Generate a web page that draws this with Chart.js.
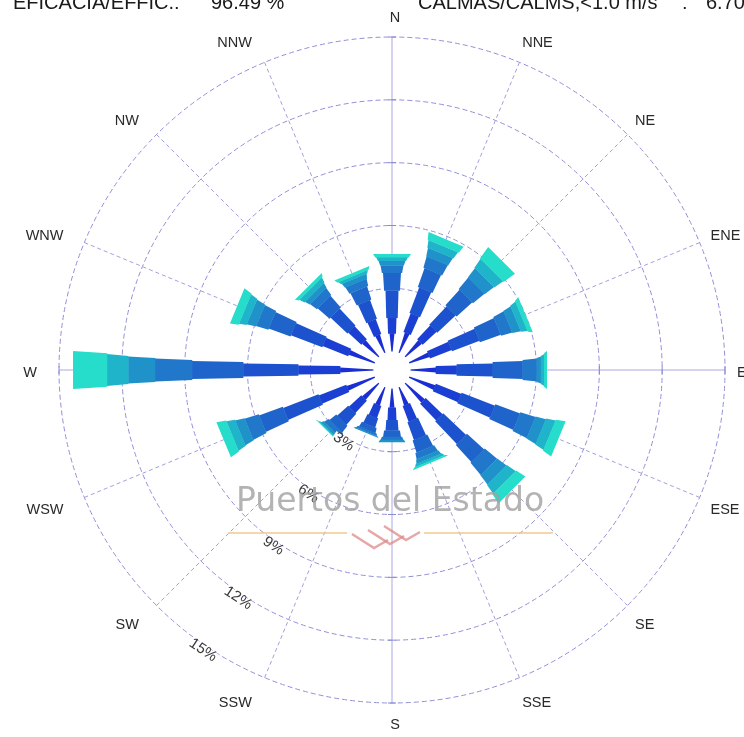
<!DOCTYPE html>
<html>
<head>
<meta charset="utf-8">
<script src="https://cdn.jsdelivr.net/npm/chart.js@4.4.1/dist/chart.umd.min.js"></script>
<style>
  html, body { margin: 0; padding: 0; background: #fff; overflow: hidden; }
  canvas { display: block; }
</style>
</head>
<body>
<canvas id="rose" width="744" height="737"></canvas>
<script>
// Wind directions (clockwise from North)
const directions = ['N', 'NNE', 'NE', 'ENE', 'E', 'ESE', 'SE', 'SSE',
                    'S', 'SSW', 'SW', 'WSW', 'W', 'WNW', 'NW', 'NNW'];

// Frequency (%) of each speed class per direction
const speedClass1 = [0.85, 1.00, 1.00, 1.00, 1.20, 1.30, 1.20, 0.90, 0.90, 0.90, 1.00, 1.40, 1.58, 1.30, 1.00, 0.90];
const speedClass2 = [0.75, 0.95, 0.90, 1.10, 1.00, 1.30, 1.10, 0.80, 0.60, 0.60, 0.80, 1.40, 2.00, 1.30, 0.85, 0.75];
const speedClass3 = [1.30, 1.30, 1.20, 1.40, 1.72, 1.70, 1.50, 0.90, 0.50, 0.45, 0.70, 1.80, 2.63, 1.60, 1.10, 0.95];
const speedClass4 = [0.85, 0.95, 1.00, 1.05, 1.43, 1.25, 1.10, 0.60, 0.30, 0.25, 0.40, 1.20, 2.44, 1.10, 0.75, 0.65];
const speedClass5 = [0.35, 0.55, 0.70, 0.55, 0.67, 0.75, 0.75, 0.30, 0.15, 0.10, 0.25, 0.70, 1.77, 0.60, 0.40, 0.35];
const speedClass6 = [0.22, 0.40, 0.55, 0.40, 0.20, 0.50, 0.55, 0.20, 0.10, 0.05, 0.12, 0.45, 1.28, 0.45, 0.25, 0.22];
const speedClass7 = [0.17, 0.35, 0.50, 0.30, 0.15, 0.45, 0.50, 0.12, 0.00, 0.00, 0.05, 0.40, 1.01, 0.35, 0.25, 0.14];
const speedClass8 = [0.15, 0.35, 0.65, 0.20, 0.13, 0.45, 0.50, 0.08, 0.00, 0.00, 0.03, 0.45, 1.62, 0.40, 0.15, 0.14];

// Percentage rings
const ringTicks = [3, 6, 9, 12, 15];

// Header figures
const efficacy = '96.49 %';
const calms = '6.70';

const speedClasses = [speedClass1, speedClass2, speedClass3, speedClass4,
                      speedClass5, speedClass6, speedClass7, speedClass8];

// Styling per speed class: fill colour and bar thickness (px)
const classColors = ['#1a2ed4', '#1a3fd2', '#1c52ce', '#1f64cb', '#2178ca', '#2092ca', '#20b4ca', '#26dcca'];
const classThickness = [5, 9, 13, 18, 23, 27, 32, 38];

// Cumulative stacks: each class starts where the previous one ended
let running = directions.map(() => 0);
const datasets = speedClasses.map((values, k) => {
  running = running.map((sum, i) => sum + values[i]);
  return {
    label: 'Clase ' + (k + 1),
    data: running.slice(),
    segmentColor: classColors[k],
    segmentThickness: classThickness[k],
    borderWidth: 0,
    borderColor: 'rgba(0,0,0,0)',
    backgroundColor: 'rgba(0,0,0,0)',
    pointRadius: 0,
    pointHoverRadius: 0,
    fill: false
  };
});

const ringColor = '#9090d8';
const spokeColor = '#a9a9e2';

// Small cross ticks where the rings meet the four main axes
const axisTicks = {
  id: 'axisTicks',
  beforeDatasetsDraw(chart) {
    const ctx = chart.ctx;
    const scale = chart.scales.r;
    ctx.save();
    ctx.strokeStyle = '#8a8ad6';
    ctx.lineWidth = 1;
    [0, 4, 8, 12].forEach(i => {
      const a = scale.getIndexAngle(i) - Math.PI / 2;
      const nx = -Math.sin(a), ny = Math.cos(a);
      ringTicks.forEach(v => {
        const p = scale.getPointPosition(i, scale.getDistanceFromCenterForValue(v));
        ctx.beginPath();
        ctx.moveTo(p.x - nx * 4, p.y - ny * 4);
        ctx.lineTo(p.x + nx * 4, p.y + ny * 4);
        ctx.stroke();
      });
    });
    ctx.restore();
  }
};

// Stacked bars, drawn along each direction from the points the radar controller places
const roseBars = {
  id: 'roseBars',
  afterDatasetsDraw(chart) {
    const ctx = chart.ctx;
    const scale = chart.scales.r;
    const cx = scale.xCenter, cy = scale.yCenter;
    const base = scale.getDistanceFromCenterForValue(0);
    // calm circle
    ctx.save();
    ctx.fillStyle = '#fff';
    ctx.beginPath();
    ctx.arc(cx, cy, base, 0, Math.PI * 2);
    ctx.fill();
    ctx.restore();
    chart.data.datasets.forEach((ds, k) => {
      const meta = chart.getDatasetMeta(k);
      const prev = k > 0 ? chart.getDatasetMeta(k - 1) : null;
      meta.data.forEach((pt, i) => {
        const outer = Math.hypot(pt.x - cx, pt.y - cy);
        const inner = prev ? Math.hypot(prev.data[i].x - cx, prev.data[i].y - cy) : base;
        if (outer - inner < 0.05) return;
        const hw = ds.segmentThickness / 2;
        const hwIn = k === 0 ? 0.6 : hw * 0.88;
        ctx.save();
        ctx.translate(cx, cy);
        ctx.rotate(scale.getIndexAngle(i) - Math.PI / 2);
        ctx.fillStyle = ds.segmentColor;
        ctx.beginPath();
        ctx.moveTo(inner - 0.3, -hwIn);
        ctx.lineTo(outer, -hw);
        ctx.lineTo(outer, hw);
        ctx.lineTo(inner - 0.3, hwIn);
        ctx.closePath();
        ctx.fill();
        ctx.restore();
      });
    });
  }
};

// Direction names, ring percentages, header and institutional mark
const roseText = {
  id: 'roseText',
  afterDraw(chart) {
    const ctx = chart.ctx;
    const scale = chart.scales.r;
    const cx = scale.xCenter, cy = scale.yCenter;

    ctx.save();
    // direction names: left of the N-S axis right-aligned, right of it left-aligned
    ctx.font = '14.5px "Liberation Sans", Arial, sans-serif';
    ctx.fillStyle = '#2a2a2a';
    ctx.textBaseline = 'middle';
    chart.data.labels.forEach((lab, i) => {
      const px = scale.getPointPosition(i, scale.drawingArea + 15);
      const py = scale.getPointPosition(i, scale.drawingArea + 24);
      let x = px.x;
      const dx = px.x - cx;
      if (Math.abs(dx) < 1) {
        ctx.textAlign = 'center';
        x = cx + 3;
      } else if (dx > 0) {
        ctx.textAlign = 'left';
        x = px.x - 3;
      } else {
        ctx.textAlign = 'right';
        x = px.x - 7;
      }
      const y = (i % 8 === 0) ? scale.getPointPosition(i, scale.drawingArea + 19).y + (i === 0 ? -3 : 0) : py.y;
      ctx.fillText(lab, x, y + 3);
    });

    // ring percentages along the SSW-SW quadrant
    const bearing = 214 * Math.PI / 180;
    ctx.font = '15px "Liberation Sans", Arial, sans-serif';
    ctx.textAlign = 'center';
    ringTicks.forEach(v => {
      const d = scale.getDistanceFromCenterForValue(v) + 5;
      const x = cx + d * Math.sin(bearing);
      const y = cy - d * Math.cos(bearing);
      ctx.save();
      ctx.translate(x, y);
      ctx.rotate(bearing - Math.PI);
      const t = v + '%';
      const w = ctx.measureText(t).width;
      ctx.fillStyle = '#fff';
      ctx.fillRect(-w / 2 - 1, -5, w + 2, 10);
      ctx.fillStyle = '#3a3a3a';
      ctx.fillText(t, 0, 0);
      ctx.restore();
    });

    // header
    ctx.font = '20px "Liberation Sans", Arial, sans-serif';
    ctx.fillStyle = '#1a1a1a';
    ctx.textAlign = 'left';
    ctx.textBaseline = 'alphabetic';
    ctx.fillText('EFICACIA/EFFIC.:', 13, 9);
    ctx.fillText(efficacy, 211, 9);
    ctx.fillText('CALMAS/CALMS,<1.0 m/s', 418, 9);
    ctx.fillText(':', 682, 9);
    ctx.fillText(calms, 706, 9);

    // institutional mark
    ctx.globalAlpha = 0.75;
    ctx.strokeStyle = '#efc88c';
    ctx.lineWidth = 2;
    ctx.beginPath();
    ctx.moveTo(228, 533); ctx.lineTo(347, 533);
    ctx.moveTo(424, 533); ctx.lineTo(553, 533);
    ctx.stroke();
    ctx.strokeStyle = '#dd8a8a';
    ctx.lineWidth = 2.5;
    for (let j = 0; j < 3; j++) {
      const ox = 352 + j * 16, oy = 534 - j * 4;
      ctx.beginPath();
      ctx.moveTo(ox, oy);
      ctx.lineTo(ox + 22, oy + 14);
      ctx.lineTo(ox + 36, oy + 6);
      ctx.stroke();
    }
    ctx.globalAlpha = 0.8;
    ctx.fillStyle = '#a0a0a0';
    ctx.textAlign = 'center';
    ctx.font = '33px "DejaVu Sans", sans-serif';
    ctx.fillText('Puertos del Estado', 390, 511);
    ctx.restore();
  }
};

new Chart(document.getElementById('rose'), {
  type: 'radar',
  data: { labels: directions, datasets },
  options: {
    responsive: false,
    animation: false,
    events: [],
    layout: { padding: { left: 59, right: 19, top: 37, bottom: 34 } },
    plugins: { legend: { display: false }, tooltip: { enabled: false } },
    scales: {
      r: {
        min: -0.9,
        max: 15,
        afterBuildTicks: (scale) => {
          scale.ticks = [{ value: scale.min }].concat(ringTicks.map(v => ({ value: v })));
        },
        ticks: { display: false },
        pointLabels: { display: false },
        grid: {
          circular: true,
          color: (c) => (c.tick && c.tick.value > 0) ? ringColor : 'rgba(0,0,0,0)',
          lineWidth: 1
        },
        border: { dash: [5, 3] },
        angleLines: {
          color: (c) => c.index % 4 === 0 ? spokeColor : '#a0a0dc',
          lineWidth: 1,
          borderDash: (c) => c.index % 4 === 0 ? [] : [4, 3]
        }
      }
    }
  },
  plugins: [axisTicks, roseBars, roseText]
});
</script>
</body>
</html>
